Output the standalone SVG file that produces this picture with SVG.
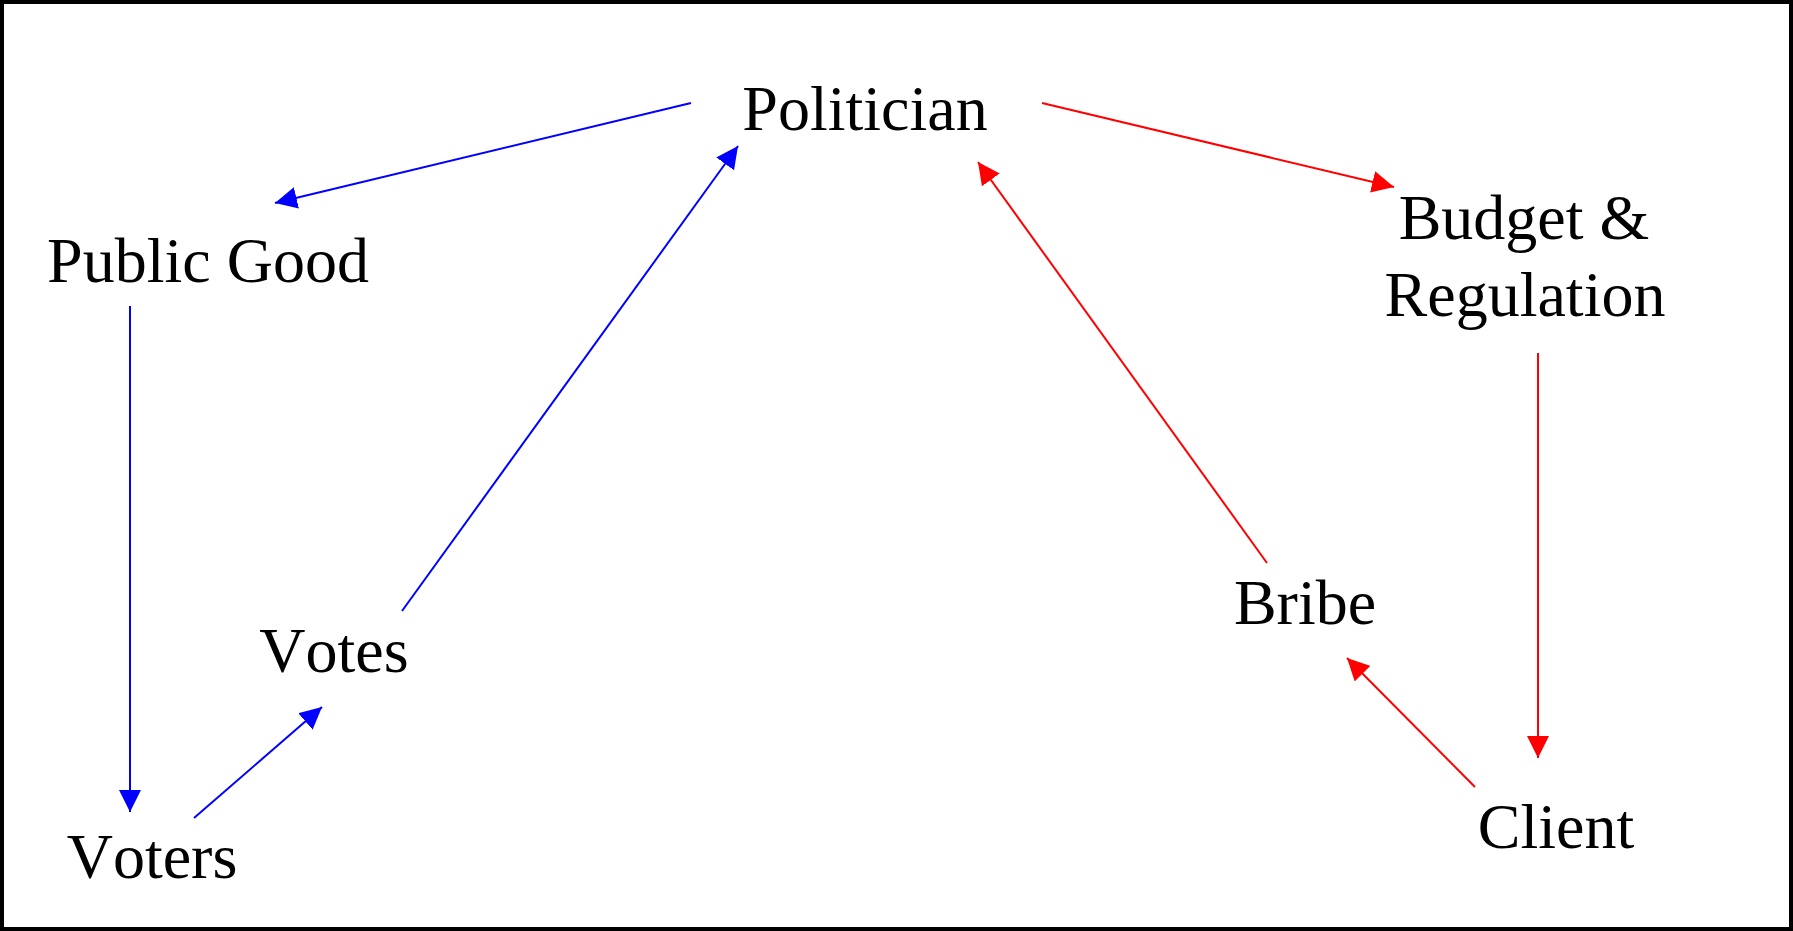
<svg xmlns="http://www.w3.org/2000/svg" width="1793" height="931" viewBox="0 0 1793 931">
<style>
text{font-family:"Liberation Serif","Times New Roman",serif;font-size:64px;fill:#000;text-anchor:middle;font-kerning:none}
.b{stroke:#0000ff;stroke-width:2;fill:none;marker-end:url(#ab)}
.r{stroke:#ff0000;stroke-width:2;fill:none;marker-end:url(#ar)}
</style>
<defs>
<marker id="ab" markerUnits="userSpaceOnUse" markerWidth="22" markerHeight="22" refX="20" refY="10" orient="auto" viewBox="0 0 20 20"><path d="M0,0 L20,10 L0,20 z" fill="#0000ff"/></marker>
<marker id="ar" markerUnits="userSpaceOnUse" markerWidth="22" markerHeight="22" refX="20" refY="10" orient="auto" viewBox="0 0 20 20"><path d="M0,0 L20,10 L0,20 z" fill="#ff0000"/></marker>
</defs>
<rect x="0" y="0" width="1793" height="931" fill="#fff"/>
<rect x="2" y="2" width="1789" height="927" fill="none" stroke="#000" stroke-width="4"/>
<g id="connectors">
<line class="b" x1="691" y1="103" x2="275" y2="203"/>
<line class="b" x1="130" y1="306" x2="130" y2="812"/>
<line class="b" x1="194" y1="818" x2="322" y2="707"/>
<line class="b" x1="402" y1="611" x2="738" y2="146"/>
<line class="r" x1="1042" y1="103" x2="1394" y2="187"/>
<line class="r" x1="1538" y1="353" x2="1538" y2="758"/>
<line class="r" x1="1475" y1="787" x2="1347" y2="658"/>
<line class="r" x1="1267" y1="563" x2="978" y2="162"/>
</g>
<g id="politician"><text x="865" y="130">Politician</text></g>
<g id="public-good"><text x="208" y="282">Public Good</text></g>
<g id="voters"><text x="152" y="878">Voters</text></g>
<g id="votes"><text x="334" y="672">Votes</text></g>
<g id="budget"><text x="1524" y="239">Budget &amp;</text><text x="1525" y="316">Regulation</text></g>
<g id="bribe"><text x="1305" y="624">Bribe</text></g>
<g id="client"><text x="1556" y="848">Client</text></g>
</svg>
